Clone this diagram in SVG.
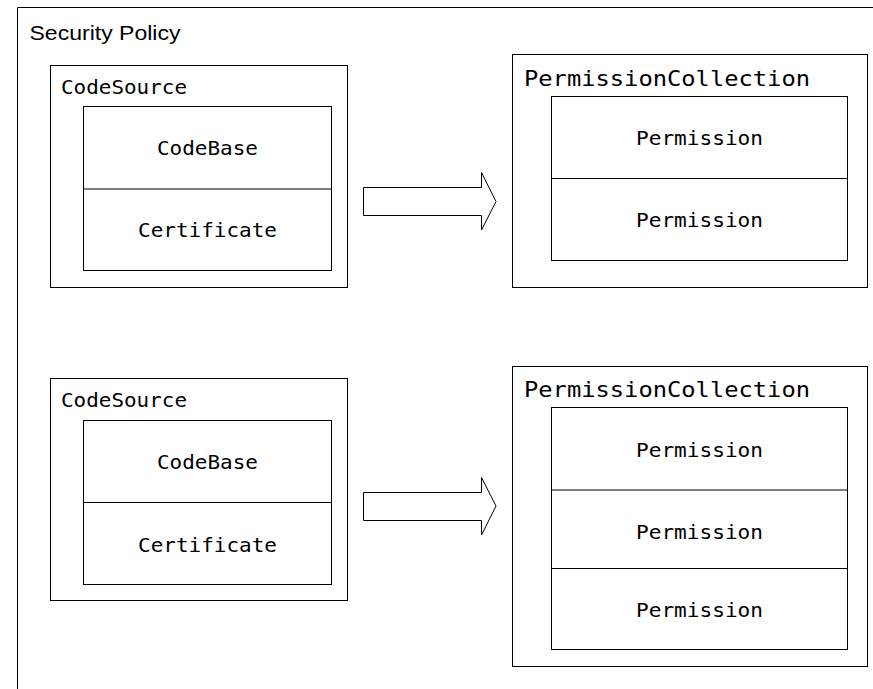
<svg xmlns="http://www.w3.org/2000/svg" width="873" height="689" viewBox="0 0 873 689">
<style>
.box{fill:#fff;stroke:#000;stroke-width:1}
.div{stroke:#000;stroke-width:1}
.arrow{fill:#fff;stroke:#000;stroke-width:1;stroke-linejoin:miter}
.mono{font-family:"DejaVu Sans Mono","Liberation Mono",monospace;fill:#000}
.m21{font-size:19px}
.m23{font-size:22px}
.title{font-family:"Liberation Sans",Arial,sans-serif;font-size:20px;fill:#000}
</style>
<rect width="873" height="689" fill="#fff"/>
<g id="frame">
<path d="M17.5 689 V7.5 H873" fill="none" stroke="#000" stroke-width="1"/>
<text class="title" x="29.5" y="39.5" textLength="151" lengthAdjust="spacingAndGlyphs">Security Policy</text>
</g>
<g id="codesource1">
<rect class="box" x="50.5" y="65.5" width="297" height="222"/>
<text class="mono m21" x="61" y="94" textLength="126" lengthAdjust="spacingAndGlyphs">CodeSource</text>
<rect class="box" x="83.5" y="106.5" width="248" height="164"/>
<line class="div" x1="83.5" y1="189" x2="331.5" y2="189"/>
<text class="mono m21" x="207.5" y="155" text-anchor="middle" textLength="101" lengthAdjust="spacingAndGlyphs">CodeBase</text>
<text class="mono m21" x="207.5" y="237" text-anchor="middle" textLength="139" lengthAdjust="spacingAndGlyphs">Certificate</text>
</g>
<g id="permcoll1">
<rect class="box" x="512.5" y="54.5" width="355" height="233"/>
<text class="mono m23" x="524" y="86" textLength="286" lengthAdjust="spacingAndGlyphs">PermissionCollection</text>
<rect class="box" x="551.5" y="96.5" width="296" height="164"/>
<line class="div" x1="551.5" y1="178.5" x2="847.5" y2="178.5"/>
<text class="mono m21" x="699.5" y="145" text-anchor="middle" textLength="127" lengthAdjust="spacingAndGlyphs">Permission</text>
<text class="mono m21" x="699.5" y="227" text-anchor="middle" textLength="127" lengthAdjust="spacingAndGlyphs">Permission</text>
</g>
<g id="codesource2">
<rect class="box" x="50.5" y="378.5" width="297" height="222"/>
<text class="mono m21" x="61" y="407" textLength="126" lengthAdjust="spacingAndGlyphs">CodeSource</text>
<rect class="box" x="83.5" y="420.5" width="248" height="164"/>
<line class="div" x1="83.5" y1="502.5" x2="331.5" y2="502.5"/>
<text class="mono m21" x="207.5" y="468.5" text-anchor="middle" textLength="101" lengthAdjust="spacingAndGlyphs">CodeBase</text>
<text class="mono m21" x="207.5" y="552" text-anchor="middle" textLength="139" lengthAdjust="spacingAndGlyphs">Certificate</text>
</g>
<g id="permcoll2">
<rect class="box" x="512.5" y="366.5" width="355" height="300"/>
<text class="mono m23" x="524" y="397" textLength="286" lengthAdjust="spacingAndGlyphs">PermissionCollection</text>
<rect class="box" x="551.5" y="407.5" width="296" height="242"/>
<line class="div" x1="551.5" y1="490" x2="847.5" y2="490"/>
<line class="div" x1="551.5" y1="568.5" x2="847.5" y2="568.5"/>
<text class="mono m21" x="699.5" y="457" text-anchor="middle" textLength="127" lengthAdjust="spacingAndGlyphs">Permission</text>
<text class="mono m21" x="699.5" y="538.5" text-anchor="middle" textLength="127" lengthAdjust="spacingAndGlyphs">Permission</text>
<text class="mono m21" x="699.5" y="617" text-anchor="middle" textLength="127" lengthAdjust="spacingAndGlyphs">Permission</text>
</g>
<g id="connectors">
<path class="arrow" d="M363.5 187.5 H481.5 V172.5 L496 201.5 L481.5 230 V215.5 H363.5 Z"/>
<path class="arrow" d="M363.5 492.5 H481.5 V477.5 L496 506 L481.5 535 V520.5 H363.5 Z"/>
</g>
</svg>
